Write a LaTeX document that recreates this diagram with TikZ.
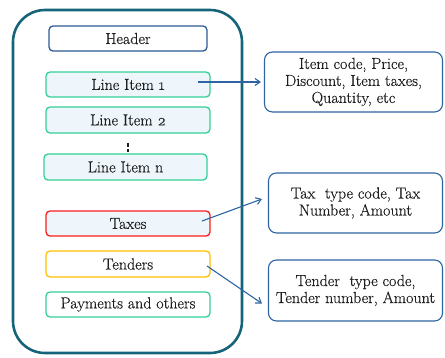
\documentclass[tikz,border=0pt]{standalone}
\usepackage{fontspec}
\newfontfamily\diafont{Latin Modern Roman}[FakeBold=0.35, Numbers=OldStyle]
\usetikzlibrary{arrows.meta}
\definecolor{outerc}{RGB}{22,100,122}
\definecolor{hdrc}{RGB}{46,92,150}
\definecolor{grnc}{RGB}{52,208,152}
\definecolor{lfill}{RGB}{238,246,251}
\definecolor{redc}{RGB}{250,30,30}
\definecolor{goldc}{RGB}{255,192,0}
\definecolor{bluec}{RGB}{46,100,162}
\definecolor{txtc}{RGB}{30,30,30}
\begin{document}
\begin{tikzpicture}[x=1pt,y=-1pt,
  itembox/.style={draw, line width=1.3pt, rounded corners=4pt, font=\diafont\fontsize{16}{17}\selectfont, text=txtc, inner sep=0pt},
  infobox/.style={draw=bluec, line width=1.1pt, rounded corners=8pt, align=center, font=\diafont\fontsize{16}{17}\selectfont, text=txtc, inner sep=0pt},
  link/.style={draw=bluec, line width=1.1pt, -{Straight Barb[length=5pt,width=7pt]}}]
\useasboundingbox (0,0) rectangle (445,357);
\fill[white] (0,0) rectangle (445,357);
\draw[outerc, line width=2.6pt, rounded corners=32pt] (13,10) rectangle (242,353);
\node[itembox, draw=hdrc, fill=white, minimum width=158pt, minimum height=25pt] (hdr) at (128,38.5) {Header};
\node[itembox, draw=grnc, fill=lfill, minimum width=164pt, minimum height=25pt] (li1) at (128,84.5) {Line Item 1};
\node[itembox, draw=grnc, fill=lfill, minimum width=164pt, minimum height=26pt] (li2) at (128,120) {Line Item 2};
\node[itembox, draw=grnc, fill=lfill, minimum width=163pt, minimum height=26pt] (lin) at (125.5,167) {Line Item n};
\node[itembox, draw=redc, fill=lfill, minimum width=164pt, minimum height=25pt] (tax) at (128,223.5) {Taxes};
\node[itembox, draw=goldc, fill=white, minimum width=164pt, minimum height=26pt] (ten) at (128,264) {Tenders};
\node[itembox, draw=grnc, fill=white, minimum width=164pt, minimum height=25pt] (pay) at (128,304.5) {Payments and others};
\draw[txtc, line width=1.6pt, dash pattern=on 4pt off 2pt, shorten <=9pt, shorten >=1pt] (li2.south) -- (li2.south |- lin.north);
\node[infobox, minimum width=178pt, minimum height=60pt] (i1) at (353.5,82) {Item code, Price,\\Discount, Item taxes,\\Quantity, etc};
\node[infobox, minimum width=174pt, minimum height=60pt] (i2) at (355.5,203) {Tax\ \ type code, Tax\\Number, Amount};
\node[infobox, minimum width=174pt, minimum height=61pt] (i3) at (355.5,290.5) {Tender\ \ type code,\\Tender number, Amount};
\coordinate (s1) at (198,82);
\coordinate (s2) at (202,221);
\coordinate (s3) at (207,266);
\draw[link] (s1) -- ([xshift=-3pt]i1.west);
\draw[link] (s2) -- ([xshift=-6pt,yshift=4pt]i2.west);
\draw[link] (s3) -- ([xshift=-6pt,yshift=-13pt]i3.west);
\end{tikzpicture}
\end{document}
